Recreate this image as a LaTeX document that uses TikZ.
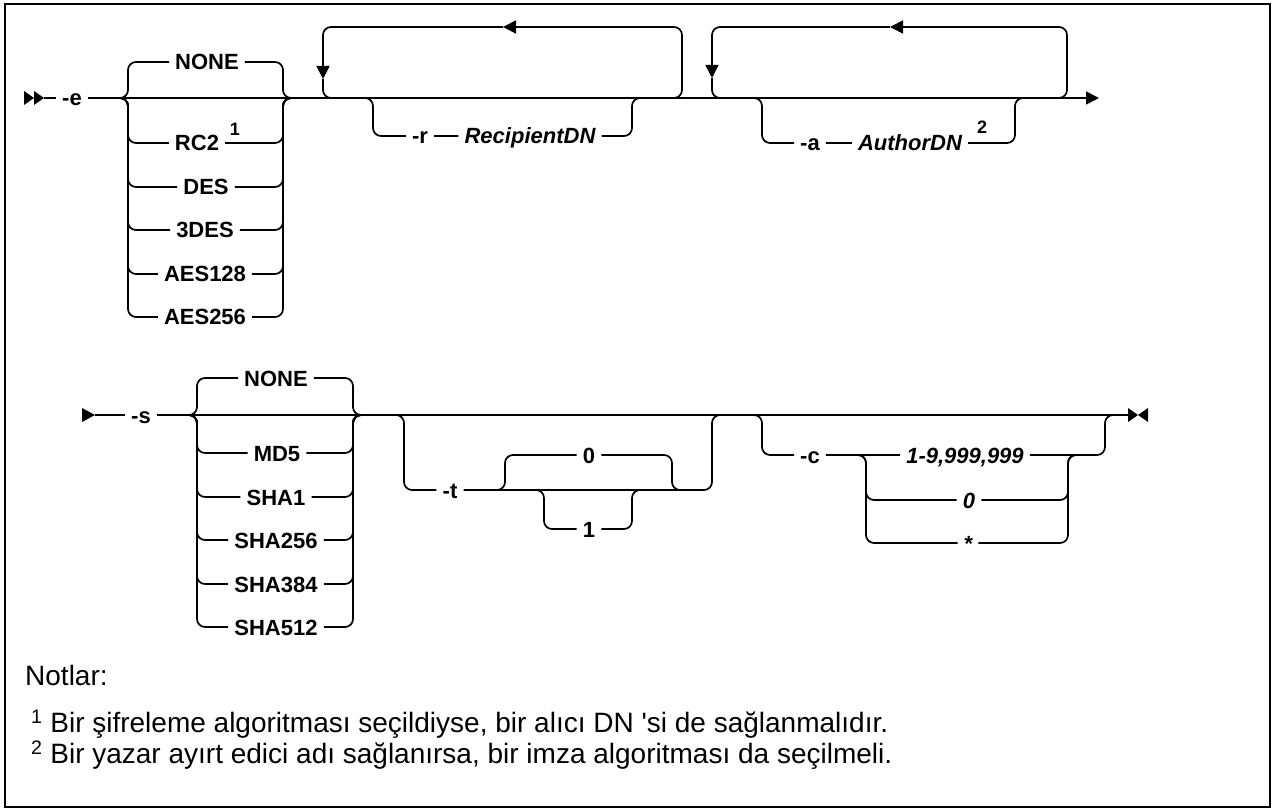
\documentclass[tikz,border=0pt]{standalone}
\usepackage{fontspec}
\setmainfont{Liberation Sans}
\usetikzlibrary{scopes,arrows.meta}

\tikzset{
  rail/.style={line width=1.7pt, rounded corners=8pt},
  fwd/.style={-{Triangle[length=13pt,width=13pt]}},
  kw/.style={font=\fontsize{22}{26}\selectfont\bfseries, inner sep=6pt, text height=16pt, text depth=0pt},
  var/.style={kw, font=\fontsize{22}{26}\selectfont\bfseries\itshape},
  sup/.style={font=\fontsize{18}{20}\selectfont\bfseries, inner sep=0pt},
  note/.style={font=\fontsize{28}{34}\selectfont, anchor=west, inner sep=0pt}
}

\begin{document}
\begin{tikzpicture}[x=1pt,y=-1pt]
  \useasboundingbox (0,0) rectangle (1277,810);
  \draw[line width=2pt] (5,4) rectangle (1270,807);

  % row 1
  \fill (24,91) -- (34,98) -- (24,105) -- cycle (34,91) -- (44,98) -- (34,105) -- cycle;
  \coordinate (b1) at (44,98);
  \coordinate (end1) at (1099,98);
  \node[kw] (e) at (72,98) {-e};
  \node[kw] (enone) at (207,62) {NONE};
  \node[kw] (rc2) at (197,143) {RC2};
  \node[sup] (n1) at (235,129) {1};
  \node[kw] (des) at (206,187) {DES};
  \node[kw] (tdes) at (205,230) {3DES};
  \node[kw] (aesa) at (205,274) {AES128};
  \node[kw] (aesb) at (205,317) {AES256};
  \node[kw] (r) at (420,136) {-r};
  \node[var] (rdn) at (530,136) {RecipientDN};
  \node[kw] (a) at (810,143) {-a};
  \node[var] (adn) at (910,143) {AuthorDN};
  \node[sup] (n2) at (982,127) {2};
  { [rail]
    \draw (b1) -- (e);
    \draw[fwd] (e) -- (end1);
    \foreach \o in {enone,rc2,des,tdes,aesa,aesb}
      \draw (120,98) -- (128,98) |- (\o) -| (283,98) -- (291,98);
    \draw[fwd] (674,98) -| (682,27) -- (503,27);
    \draw[fwd] (503,27) -| (323,79);
    \draw (323,79) |- (331,98);
    \draw (365,98) -- (373,98) |- (r) -- (rdn) -| (632,98) -- (640,98);
    \draw[fwd] (1059,98) -| (1067,27) -- (890,27);
    \draw[fwd] (890,27) -| (712,78);
    \draw (712,78) |- (720,98);
    \draw (754,98) -- (762,98) |- (a) -- (adn) -| (1015,98) -- (1023,98);
  }

  % row 2
  \fill (82,408) -- (95,415) -- (82,422) -- cycle;
  \fill (1128,408) -- (1138,415) -- (1128,422) -- cycle (1148,408) -- (1138,415) -- (1148,422) -- cycle;
  \coordinate (b2) at (95,415);
  \coordinate (end2) at (1128,415);
  \node[kw] (s) at (141,415) {-s};
  \node[kw] (snone) at (276,378) {NONE};
  \node[kw] (md) at (277,453) {MD5};
  \node[kw] (shaa) at (276,497) {SHA1};
  \node[kw] (shab) at (276,540) {SHA256};
  \node[kw] (shac) at (276,584) {SHA384};
  \node[kw] (shad) at (276,627) {SHA512};
  \node[kw] (t) at (450,490) {-t};
  \node[kw] (tzero) at (589,455) {0};
  \node[kw] (tone) at (589,529) {1};
  \node[kw] (c) at (810,455) {-c};
  \node[var] (cmax) at (965,455) {1-9,999,999};
  \node[var] (czero) at (969,500) {0};
  \node[var] (cstar) at (968,543) {*};
  { [rail]
    \draw (b2) -- (s) -- (end2);
    \foreach \o in {snone,md,shaa,shab,shac,shad}
      \draw (189,415) -- (197,415) |- (\o) -| (353,415) -- (361,415);
    \draw (396,415) -- (404,415) |- (t) -| (712,415) -- (720,415);
    \draw (497,490) -- (505,490) |- (tzero) -| (672,490) -- (680,490);
    \draw (536,490) -- (544,490) |- (tone) -| (632,490) -- (640,490);
    \draw (754,415) -- (762,415) |- (c) -- (cmax) -| (1105,415) -- (1113,415);
    \draw (858,455) -- (866,455) |- (czero) -| (1068,455) -- (1076,455);
    \draw (858,455) -- (866,455) |- (cstar) -| (1068,455) -- (1076,455);
  }

  % notes
  \node[note] (notlar) at (25,675) {Notlar:};
  \node[note] (fn1) at (31,724) {\textsuperscript{1} Bir şifreleme algoritması seçildiyse, bir alıcı DN \textquotesingle si de sağlanmalıdır.};
  \node[note] (fn2) at (31,755) {\textsuperscript{2} Bir yazar ayırt edici adı sağlanırsa, bir imza algoritması da seçilmeli.};
\end{tikzpicture}
\end{document}
